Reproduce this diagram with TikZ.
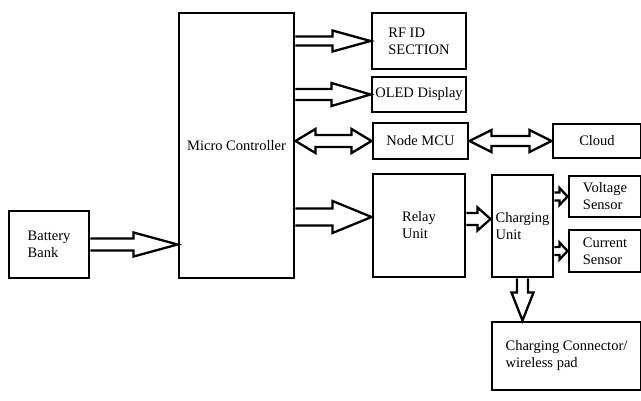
\documentclass[tikz,border=0pt]{standalone}
\usepackage{fontspec}
\setmainfont{Liberation Serif}
\usetikzlibrary{calc}
\tikzset{
  blk/.style={draw, line width=2.9pt, inner sep=0pt, align=left,
    font=\fontsize{14.5}{17}\selectfont},
  arr/.style={draw, line width=2.3pt, fill=white, line join=miter},
}
% right-pointing block arrow: from, to, shaft half, head half, head length
\newcommand\rblock[5]{\draw[arr] let \p1=(#1), \p2=(#2) in
  (\x1,\y2+#3) -- (\x2-#5,\y2+#3) -- (\x2-#5,\y2+#4) -- (\x2,\y2)
  -- (\x2-#5,\y2-#4) -- (\x2-#5,\y2-#3) -- (\x1,\y2-#3);}
% double-headed horizontal block arrow
\newcommand\lrblock[5]{\draw[arr] let \p1=(#1), \p2=(#2) in
  (\x1,\y1) -- (\x1+#5,\y1+#4) -- (\x1+#5,\y1+#3) -- (\x2-#5,\y1+#3)
  -- (\x2-#5,\y1+#4) -- (\x2,\y1) -- (\x2-#5,\y1-#4) -- (\x2-#5,\y1-#3)
  -- (\x1+#5,\y1-#3) -- (\x1+#5,\y1-#4) -- cycle;}
% downward block arrow
\newcommand\dblock[5]{\draw[arr] let \p1=(#1), \p2=(#2) in
  (\x1+#3,\y1) -- (\x1+#3,\y2+#5) -- (\x1+#4,\y2+#5) -- (\x1,\y2)
  -- (\x1-#4,\y2+#5) -- (\x1-#3,\y2+#5) -- (\x1-#3,\y1);}
\begin{document}
\begin{tikzpicture}[x=1pt,y=-1pt]
\useasboundingbox (0,0) rectangle (641,401);
\node[blk, minimum width=115pt, minimum height=265pt] (mc) at (236.5,145.5) {Micro Controller};
\node[blk, minimum width=80pt, minimum height=67pt] (battery) at (49,244.5) {Battery\\Bank};
\node[blk, minimum width=94pt, minimum height=56pt] (rf) at (419,41) {RF ID\\SECTION};
\node[blk, minimum width=94pt, minimum height=35pt] (oled) at (419,94.5) {OLED Display};
\node[blk, minimum width=95pt, minimum height=36pt] (nmcu) at (420.5,141) {Node MCU};
\node[blk, minimum width=88pt, minimum height=34pt] (cloud) at (597,141) {Cloud};
\node[blk, minimum width=92pt, minimum height=103pt] (relay) at (419,225.5) {Relay\\Unit};
\node[blk, minimum width=61pt, minimum height=102pt] (charging) at (522.5,226) {Charging\\Unit};
\node[blk, minimum width=72pt, minimum height=41pt] (volt) at (605,196.5) {Voltage\\Sensor};
\node[blk, minimum width=72pt, minimum height=42pt] (curr) at (605,251) {Current\\Sensor};
\node[blk, minimum width=149pt, minimum height=68pt] (conn) at (566.5,356) {Charging Connector/\\wireless pad};
\coordinate (relayin) at ([yshift=8.5pt]relay.west);
\coordinate (chin) at ([yshift=7pt]charging.west);
\rblock{mc.east |- rf.west}{rf.west}{4.5pt}{10.5pt}{38pt}
\rblock{mc.east |- oled.west}{oled.west}{5.5pt}{11.5pt}{39pt}
\lrblock{mc.east |- nmcu.west}{nmcu.west}{6pt}{12pt}{20pt}
\lrblock{nmcu.east}{cloud.west}{5pt}{11pt}{22pt}
\rblock{mc.east |- relayin}{relayin}{8.5pt}{16pt}{39pt}
\rblock{battery.east}{mc.west |- battery.east}{6pt}{12pt}{44pt}
\rblock{relay.east |- chin}{chin}{6pt}{11.5pt}{13pt}
\rblock{charging.east |- volt.west}{volt.west}{4pt}{8.5pt}{8pt}
\rblock{charging.east |- curr.west}{curr.west}{4pt}{8.5pt}{8pt}
\dblock{charging.south}{charging.south |- conn.north}{5.5pt}{11pt}{28pt}
\end{tikzpicture}
\end{document}
